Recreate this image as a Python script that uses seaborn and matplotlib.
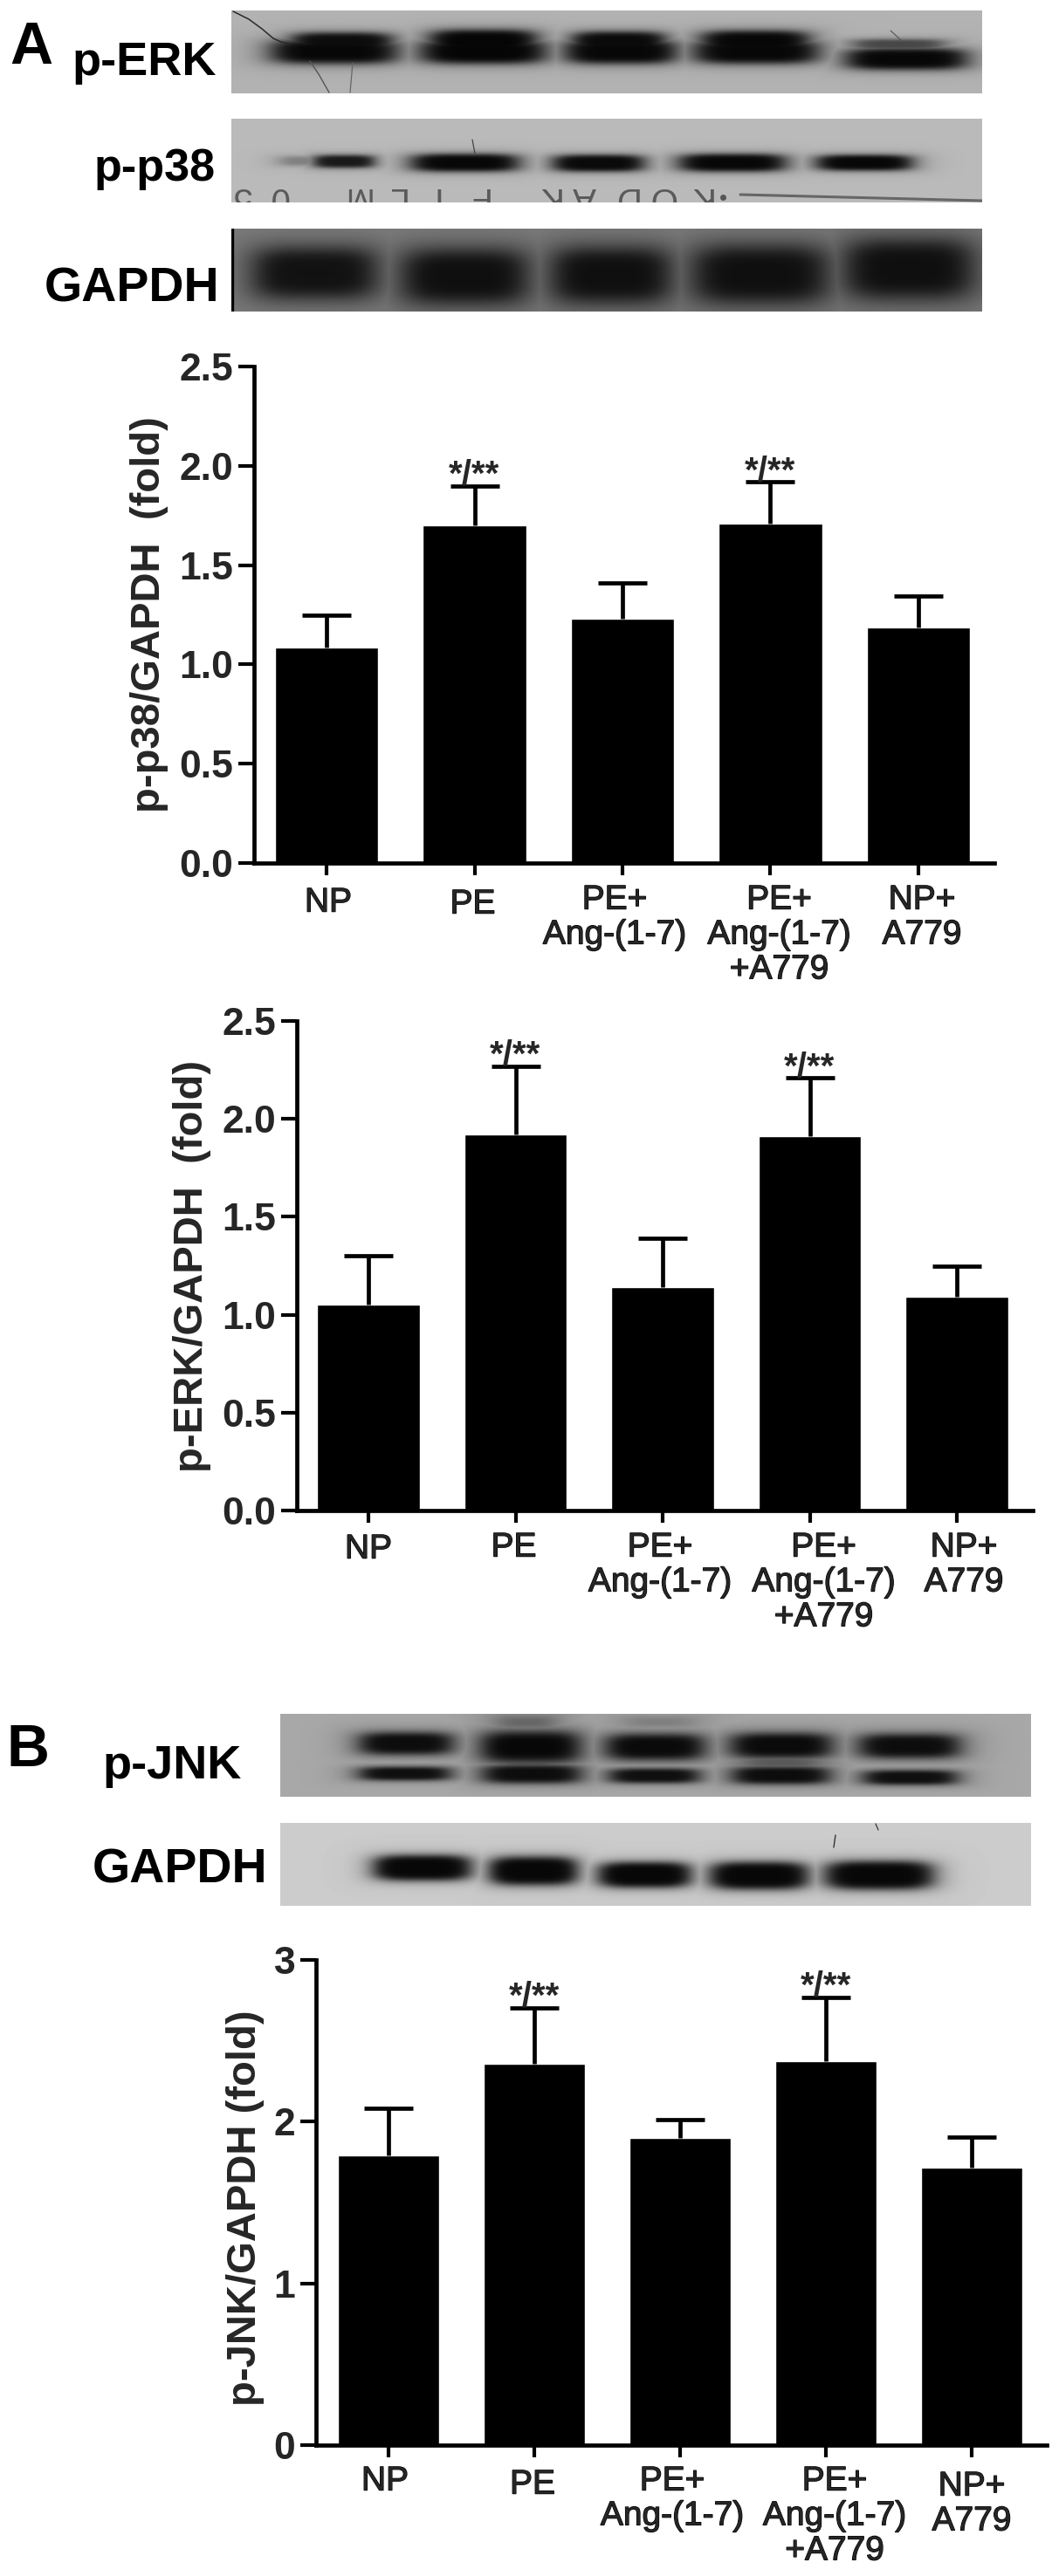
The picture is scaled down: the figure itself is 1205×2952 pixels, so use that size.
import numpy as np
import pandas as pd
import matplotlib
matplotlib.use("Agg")
import matplotlib.pyplot as plt
import matplotlib.patheffects as pe
import matplotlib.transforms as mtransforms
import seaborn as sns

# Chart data
groups = ["NP", "PE", "PE+\nAng-(1-7)", "PE+\nAng-(1-7)\n+A779", "NP+\nA779"]

p38_means = [1.085, 1.70, 1.23, 1.71, 1.185]
p38_tops = [1.25, 1.90, 1.41, 1.92, 1.345]
erk_means = [1.05, 1.92, 1.14, 1.91, 1.09]
erk_tops = [1.30, 2.27, 1.39, 2.21, 1.25]
jnk_means = [1.79, 2.36, 1.90, 2.375, 1.715]
jnk_tops = [2.085, 2.705, 2.01, 2.77, 1.905]

p38_ticks = ["0.0", "0.5", "1.0", "1.5", "2.0", "2.5"]
jnk_ticks = ["0", "1", "2", "3"]
marked = [1, 3]

W, H = 1205, 2952
sns.set_style("white")
narrow = ["Liberation Sans Narrow", "Liberation Sans", "DejaVu Sans"]
plt.rcParams["font.family"] = ["Liberation Sans", "DejaVu Sans"]

fig = plt.figure(figsize=(W / 100, H / 100), dpi=100, facecolor="white")
# page pixels, origin top left
page = mtransforms.Affine2D().scale(1 / W, -1 / H).translate(0, 1) + fig.transFigure


def make_axes(x0, x1, y0, y1):
    return fig.add_axes([x0 / W, 1 - y1 / H, (x1 - x0) / W, (y1 - y0) / H])


def draw_blot(box, grey, bands):
    x0, x1, y0, y1 = box
    ax = make_axes(x0, x1, y0, y1)
    xx, yy = np.meshgrid(np.arange(x0, x1), np.arange(y0, y1))
    img = np.full(xx.shape, grey, dtype=float)
    for bx0, bx1, by0, by1, level, soft in bands:
        cx, cy = (bx0 + bx1) / 2, (by0 + by1) / 2
        hw, hh = (bx1 - bx0) / 2 * 1.07, (by1 - by0) / 2 * 1.15
        d = (np.abs(xx - cx) / hw) ** 4 + (np.abs(yy - cy) / hh) ** 3
        dark = 1 / (1 + d ** soft)
        img = np.minimum(img, grey + (level - grey) * dark)
    ax.imshow(img, cmap="gray", vmin=0, vmax=1, aspect="auto",
              extent=(x0, x1, y1, y0), interpolation="bilinear")
    ax.set_xlim(x0, x1)
    ax.set_ylim(y1, y0)
    ax.axis("off")
    return ax


def draw_bars(means, tops, ticks, yticks, ymax, geom, ylabel, label_xy, nudges):
    left, right, top, bottom, first, step = geom
    ax = make_axes(left, right, top, bottom)
    df = pd.DataFrame({"group": groups, "value": means})
    sns.barplot(data=df, x="group", y="value", color="black", saturation=1,
                width=0.70, ax=ax)
    errs = np.array(tops) - np.array(means)
    eb = ax.errorbar(range(len(means)), means, yerr=[np.zeros(len(errs)), errs],
                     fmt="none", ecolor="black", elinewidth=3.4, capsize=20, capthick=3.4)
    eb[1][0].set_visible(False)  # only the upper cap
    ax.set_xlim((left - first) / step, (right - first) / step)
    ax.set_ylim(0, ymax)
    ax.patch.set_alpha(0)
    sns.despine(ax=ax)
    for side in ["left", "bottom"]:
        ax.spines[side].set_linewidth(3.4)
        ax.spines[side].set_color("black")
    ax.set_yticks(yticks)
    ax.set_yticklabels(ticks, family=narrow, fontweight="bold", fontsize=32)
    ax.tick_params(axis="y", length=13, width=3.0, pad=4, color="black", left=True)
    ax.tick_params(axis="x", length=10, width=3.0, pad=7, color="black", bottom=True)
    ax.set_xticks(range(len(groups)))
    ax.set_xticklabels(groups, fontsize=28, linespacing=1.14)
    ax.set_xlabel("")
    for lab, (dx, dy) in zip(ax.get_xticklabels(), nudges):
        lab.set_transform(lab.get_transform() + mtransforms.Affine2D().translate(dx, -dy))
        lab.set_path_effects([pe.withStroke(linewidth=0.9, foreground="black")])
    ax.set_ylabel(ylabel, fontsize=34, fontweight="bold", rotation=90, va="center", ha="center")
    ax.yaxis.set_label_coords(label_xy[0], label_xy[1], transform=page)
    for i in marked:
        ax.annotate("*/**", xy=(i, tops[i]), xytext=(0, 1), textcoords="offset pixels",
                    ha="center", va="baseline", fontsize=29, fontweight="bold")
    return ax


# Blots, panel A
erk_box = (265, 1125, 12, 107)
erk_bands = [
    (313, 452, 46, 71, 0.03, 1.8), (335, 447, 38, 58, 0.05, 1.8),
    (484, 622, 46, 71, 0.02, 1.8), (494, 612, 35, 58, 0.02, 1.8),
    (649, 772, 46, 71, 0.03, 1.8), (657, 760, 37, 58, 0.04, 1.8),
    (797, 934, 46, 71, 0.03, 1.8), (805, 924, 36, 58, 0.03, 1.8),
    (971, 1104, 56, 78, 0.03, 1.8), (978, 1080, 45, 56, 0.28, 1.4),
]
ax = draw_blot(erk_box, 0.70, erk_bands)
ax.plot([267, 285, 300, 313, 322, 331], [13, 22, 33, 44, 48, 50], color="#2a2a2a", lw=1.1)
ax.plot([355, 365, 377], [70, 85, 106], color="#555555", lw=1.0)
ax.plot([404, 401], [72, 106], color="#666666", lw=0.9)
ax.plot([1020, 1032], [35, 46], color="#555555", lw=0.8)

p38_box = (265, 1125, 136, 232)
p38_bands = [
    (320, 385, 179, 189, 0.50, 1.2), (360, 427, 178, 191, 0.10, 1.6),
    (473, 591, 177, 195, 0.03, 1.8), (635, 735, 178, 195, 0.04, 1.8),
    (780, 897, 177, 195, 0.03, 1.8), (937, 1042, 178, 194, 0.03, 1.8),
]
ax = draw_blot(p38_box, 0.73, p38_bands)
ax.plot([541, 544], [160, 176], color="#444444", lw=0.9)
ax.plot([848, 1125], [223, 230], color="#666666", lw=2.2)
film_letters = ["5", "0", "M", "L", "I", "F", "K", "A", "D", "O", "K"]
film_x = [276, 319, 407, 453, 497, 547, 627, 669, 715, 759, 801]
for letter, x in zip(film_letters, film_x):
    ax.text(x, 226, letter, rotation=180, ha="center", va="center", fontsize=29,
            color="#5a5a5a", clip_on=True)
ax.plot([828], [226], "o", ms=4, color="#555555")

gapdh_a_box = (265, 1125, 262, 357)
gapdh_a_bands = [
    (292, 429, 286, 339, 0.07, 1.5), (462, 602, 288, 345, 0.06, 1.5),
    (633, 766, 286, 344, 0.06, 1.5), (795, 946, 284, 344, 0.06, 1.5),
    (969, 1112, 277, 339, 0.06, 1.5),
]
ax = draw_blot(gapdh_a_box, 0.50, gapdh_a_bands)
ax.plot([266, 266], [262, 357], color="black", lw=2.4)

# Blots, panel B
jnk_box = (321, 1181, 1964, 2059)
jnk_bands = [
    (413, 517, 1986, 2009, 0.05, 1.6), (552, 663, 1985, 2018, 0.03, 1.6),
    (695, 805, 1988, 2015, 0.04, 1.6), (838, 951, 1987, 2013, 0.04, 1.6),
    (985, 1097, 1988, 2013, 0.05, 1.6),
    (413, 514, 2025, 2039, 0.06, 1.6), (554, 663, 2023, 2042, 0.05, 1.6),
    (699, 799, 2027, 2042, 0.06, 1.6), (840, 948, 2025, 2043, 0.05, 1.6),
    (990, 1094, 2029, 2044, 0.06, 1.6),
    (565, 640, 1965, 1982, 0.40, 0.8), (710, 800, 1966, 1980, 0.50, 0.8),
    (560, 650, 2014, 2028, 0.30, 0.9), (845, 945, 2011, 2028, 0.35, 0.9),
]
draw_blot(jnk_box, 0.66, jnk_bands)

gapdh_b_box = (321, 1181, 2089, 2184)
gapdh_b_bands = [
    (430, 537, 2127, 2153, 0.03, 2.0), (562, 659, 2129, 2158, 0.03, 2.0),
    (687, 789, 2135, 2161, 0.03, 2.0), (815, 923, 2135, 2163, 0.03, 2.0),
    (947, 1066, 2134, 2163, 0.03, 2.0),
]
ax = draw_blot(gapdh_b_box, 0.80, gapdh_b_bands)
ax.plot([957, 955], [2103, 2117], color="#333333", lw=1.0)
ax.plot([1003, 1006], [2090, 2097], color="#444444", lw=1.0)

# Bar charts
draw_bars(p38_means, p38_tops, p38_ticks, [0, 0.5, 1, 1.5, 2, 2.5], 2.5,
          (291, 1139, 420, 989, 374, 169.5), "p-p38/GAPDH  (fold)", (171, 704),
          [(2, 4), (-2, 6), (-9, 1), (10, 1), (4, 1)])
draw_bars(erk_means, erk_tops, p38_ticks, [0, 0.5, 1, 1.5, 2, 2.5], 2.5,
          (340, 1183, 1170, 1731, 422, 168.5), "p-ERK/GAPDH  (fold)", (220, 1451),
          [(0, 3), (-2, 1), (-3, 1), (16, 1), (8, 1)])
draw_bars(jnk_means, jnk_tops, jnk_ticks, [0, 1, 2, 3], 3,
          (362, 1199, 2246, 2802, 445, 167), "p-JNK/GAPDH (fold)", (281, 2530),
          [(-4, 0), (-2, 4), (-9, 0), (10, 0), (0, 6)])

# Panel and blot labels
blot_labels = [
    ("A", 36, 73, 49), ("p-ERK", 165, 86, 39), ("p-p38", 177, 207, 37.5),
    ("GAPDH", 151, 345, 40), ("B", 32, 2024, 49), ("p-JNK", 197, 2038, 39),
    ("GAPDH", 206, 2157, 40),
]
for name, x, y, size in blot_labels:
    fig.text(x, y, name, transform=page, ha="center", va="baseline",
             fontsize=size, fontweight="bold", color="black")

fig.savefig("out.png", dpi=100, facecolor="white")
plt.close(fig)
